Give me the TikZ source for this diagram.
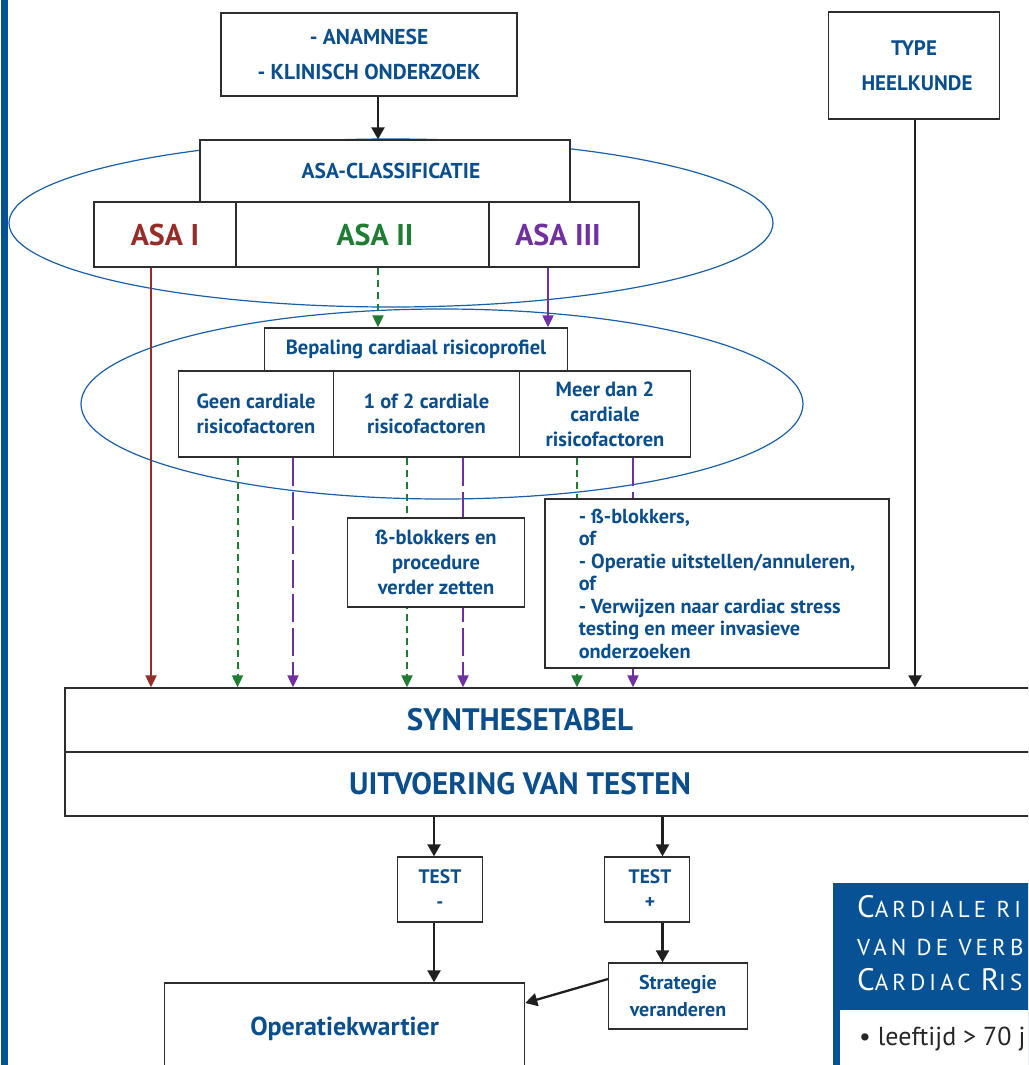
\documentclass[tikz,border=0pt]{standalone}
\usepackage{fontspec}
\setmainfont{PT Sans}
\usetikzlibrary{arrows.meta,backgrounds}
\definecolor{tblue}{RGB}{10,78,140}
\definecolor{pblue}{RGB}{6,82,148}
\definecolor{eblue}{RGB}{25,95,165}
\definecolor{asared}{RGB}{150,45,40}
\definecolor{asagreen}{RGB}{30,125,50}
\definecolor{asapurple}{RGB}{112,48,160}
\definecolor{boxgray}{RGB}{45,45,45}
\newcommand\fsz[2]{\fontsize{#1}{#2}\selectfont\bfseries}
\begin{document}
\begin{tikzpicture}[x=1pt,y=-1pt,
  box/.style={draw=boxgray, line width=1.3pt, fill=white, inner sep=0pt, text=tblue, align=center},
  blk/.style={line width=2.3pt, draw=black!88, -{Triangle[width=13pt,length=12pt]}},
  redarr/.style={line width=2pt, draw=asared, -{Triangle[width=11pt,length=12pt]}},
  grnarr/.style={line width=2pt, draw=asagreen, dash pattern=on 7pt off 5pt, -{Triangle[width=11pt,length=12pt]}},
  purarr/.style={line width=2pt, draw=asapurple, dash pattern=on 28pt off 6pt, -{Triangle[width=11pt,length=12pt]}},
  pursol/.style={line width=2pt, draw=asapurple, -{Triangle[width=11pt,length=12pt]}},
  ell/.style={draw=eblue, line width=1.2pt}]
\useasboundingbox (0,0) rectangle (1028,1065);
\clip (0,0) rectangle (1028,1065);
\fill[pblue] (1,0) rectangle (8,1065);

% top
\node[box, minimum width=296, minimum height=83, font=\fsz{21.5}{35}] (anam) at (369,54.5) {- ANAMNESE\\- KLINISCH ONDERZOEK};
\node[box, minimum width=170.4, minimum height=107, font=\fsz{21}{35}] (type) at (914,65.5) {TYPE\\\hspace*{6pt}HEELKUNDE};
\node[box, minimum width=370, minimum height=62, font=\fsz{21.5}{22}] (asacl) at (385,171) {\hspace*{12pt}ASA-CLASSIFICATIE};
\node[box, minimum width=142, minimum height=65, font=\fsz{30}{30}, text=asared] (asa1) at (165,234.5) {ASA I};
\node[box, minimum width=253, minimum height=65, font=\fsz{30}{30}, text=asagreen] (asa2) at (362.5,234.5) {\hspace*{25pt}ASA II};
\node[box, minimum width=150, minimum height=65, font=\fsz{30}{30}, text=asapurple] (asa3) at (564,234.5) {\hspace*{-12pt}ASA III};

% risk profile
\node[box, minimum width=303, minimum height=43, font=\fsz{20.5}{22}] (bep) at (416,349.5) {Bepaling cardiaal risicoprofiel};
\node[box, minimum width=154.7, minimum height=86, font=\fsz{20.5}{25}] (geen) at (256,414) {Geen cardiale\\risicofactoren};
\node[box, minimum width=186, minimum height=86, font=\fsz{20.5}{25}] (een) at (426.4,414) {1 of 2 cardiale\\risicofactoren};
\node[box, minimum width=171.2, minimum height=86, font=\fsz{20.5}{25}] (meer) at (605,414) {Meer dan 2\\cardiale\\risicofactoren};

% measures
\node[box, minimum width=177, minimum height=89, font=\fsz{20.5}{25}] (bblok) at (436,562.5) {ß-blokkers en\\procedure\\verder zetten};
\node[box, minimum width=344, minimum height=169, font=\fsz{20.3}{22.5}, align=left] (big) at (717,583.5) {- ß-blokkers,\\of\\- Operatie uitstellen/annuleren,\\of\\- Verwijzen naar cardiac stress\\testing en meer invasieve\\onderzoeken};

% synthesis
\node[box, minimum width=975, minimum height=64, font=\fsz{31}{32}] (synth) at (552.5,720) {\hspace*{-65pt}SYNTHESETABEL};
\node[box, minimum width=975, minimum height=64, font=\fsz{31}{32}] (uitv) at (552.5,784) {\hspace*{-65pt}UITVOERING VAN TESTEN};

% bottom
\node[box, minimum width=85.5, minimum height=65, font=\fsz{19.5}{25}] (test1) at (440,889.5) {TEST\\-};
\node[box, minimum width=85.5, minimum height=65, font=\fsz{19.5}{25}] (test2) at (647,889.5) {\hspace*{6pt}TEST\\\hspace*{6pt}+};
\node[box, minimum width=138.5, minimum height=66, font=\fsz{20}{27}] (strat) at (678,996) {Strategie\\veranderen};
\node[box, minimum width=360, minimum height=92, font=\fsz{26}{28}] (oper) at (344.6,1029) {Operatiekwartier};

% side panel
\fill[pblue] (833,883) rectangle (1040,1075);
\fill[white] (840,1010) rectangle (1040,1075);
\node[anchor=base west, inner sep=0pt, text=white, font=\addfontfeatures{LetterSpace=18}] (p1) at (857,917) {\fontsize{31}{31}\selectfont C\fontsize{23}{23}\selectfont ARDIALE RI};
\node[anchor=base west, inner sep=0pt, text=white, font=\addfontfeatures{LetterSpace=18}] (p2) at (857,955) {\fontsize{23}{23}\selectfont VAN DE VERB};
\node[anchor=base west, inner sep=0pt, text=white, font=\addfontfeatures{LetterSpace=18}] (p3) at (857,990) {\fontsize{31}{31}\selectfont C\fontsize{23}{23}\selectfont ARDIAC \fontsize{31}{31}\selectfont R\fontsize{23}{23}\selectfont IS};
\node[anchor=base west, inner sep=0pt, text=black!85, font=\fontsize{26}{26}\selectfont] (p4) at (859,1045) {\textbullet\ leeftijd > 70 j};

\begin{pgfonlayer}{background}
\draw[ell] (391,223) ellipse [x radius=382, y radius=84];
\draw[ell] (442,404) ellipse [x radius=361, y radius=95];
\draw[blk] ([xshift=9]anam.south) -- ([xshift=9]anam.south |- asacl.north);
\draw[blk] ([xshift=1]type.south) -- ([xshift=1]type.south |- synth.north);
\draw[redarr] ([xshift=-14]asa1.south) -- ([xshift=-14]asa1.south |- synth.north);
\draw[grnarr] ([xshift=15.5]asa2.south) -- ([xshift=15.5]asa2.south |- bep.north);
\draw[pursol] ([xshift=-16]asa3.south) -- ([xshift=-16]asa3.south |- bep.north);
\draw[grnarr] ([xshift=-18.5]geen.south) -- ([xshift=-18.5]geen.south |- synth.north);
\draw[purarr] ([xshift=37]geen.south) -- ([xshift=37]geen.south |- synth.north);
\draw[grnarr] ([xshift=-19.4]een.south) -- ([xshift=-19.4]een.south |- synth.north);
\draw[purarr] ([xshift=36.6]een.south) -- ([xshift=36.6]een.south |- synth.north);
\draw[grnarr] ([xshift=-28]meer.south) -- ([xshift=-28]meer.south |- synth.north);
\draw[purarr] ([xshift=28]meer.south) -- ([xshift=28]meer.south |- synth.north);
\draw[blk] ([xshift=-6]test1.north |- uitv.south) -- ([xshift=-6]test1.north);
\draw[blk] ([xshift=15.5]test2.north |- uitv.south) -- ([xshift=15.5]test2.north);
\draw[blk] ([xshift=-6]test1.south) -- ([xshift=-6]test1.south |- oper.north);
\draw[blk] ([xshift=15.5]test2.south) -- ([xshift=15.5]test2.south |- strat.north);
\draw[blk] ([yshift=17]strat.west) -- ([yshift=26]oper.east);
\end{pgfonlayer}
\end{tikzpicture}
\end{document}
